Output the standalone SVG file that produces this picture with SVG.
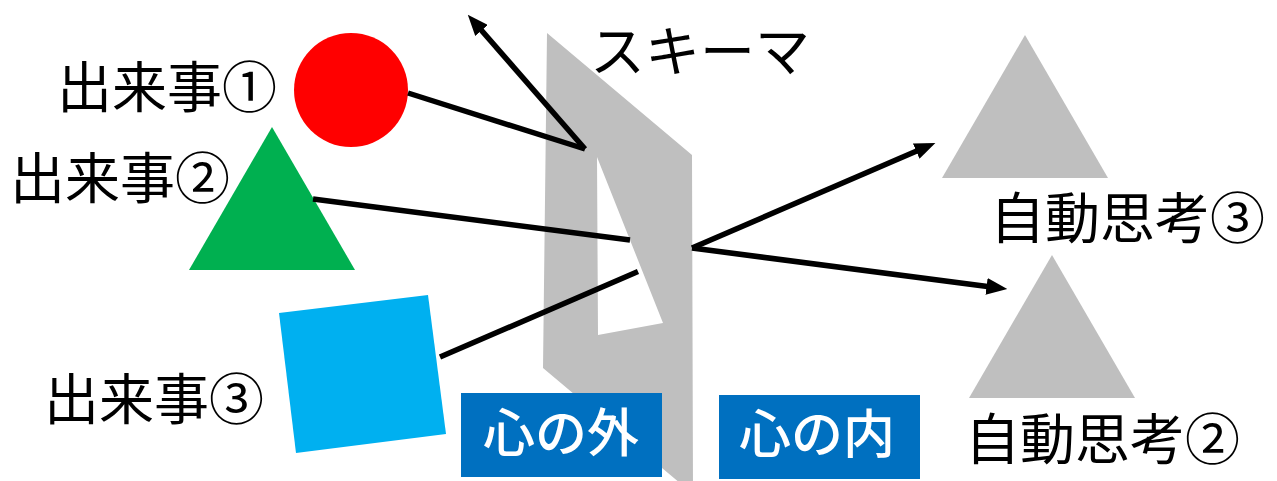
<svg xmlns="http://www.w3.org/2000/svg" width="1277" height="481" viewBox="0 0 1277 481">
<style>
.lbl{font-family:"Noto Sans CJK JP","Noto Sans CJK SC",sans-serif;font-size:55px;fill:#000}
.box{fill:#0070C0}
.btxt{font-family:"Noto Sans CJK JP","Noto Sans CJK SC",sans-serif;font-size:52px;font-weight:500;fill:#fff;text-anchor:middle}
.conn{stroke:#000;stroke-width:5.5;fill:none;stroke-linecap:butt}
.thought{fill:#BFBFBF}
</style>
<defs>
<marker id="arr" viewBox="0 0 10 8" refX="6" refY="4" markerWidth="3.8" markerHeight="3.04" orient="auto" markerUnits="strokeWidth">
<path d="M0,0 L10,4 L0,8 z" fill="#000"/>
</marker>
</defs>
<rect width="1277" height="481" fill="#fff"/>
<g id="schema">
<path class="thought" fill-rule="evenodd" d="M547,33 L692,155 L693,494 L543,368 Z M597,157 L663,323 L598,335 Z"/>
<text class="lbl" x="590" y="71" font-size="48">スキーマ</text>
</g>
<g id="event1">
<circle cx="351" cy="90" r="57" fill="#FF0000"/>
<text class="lbl" x="57" y="107">出来事①</text>
</g>
<g id="event2">
<polygon points="272,127 355,270 189,270" fill="#00B050"/>
<text class="lbl" x="10" y="198">出来事②</text>
</g>
<g id="event3">
<polygon points="279,313 428,295 446,434 296,453" fill="#00B0F0"/>
<text class="lbl" x="44" y="419">出来事③</text>
</g>
<g id="thought3">
<polygon class="thought" points="1025,35 1108,178 942,178"/>
<text class="lbl" x="990" y="238">自動思考③</text>
</g>
<g id="thought2">
<polygon class="thought" points="1052,255 1135,398 969,398"/>
<text class="lbl" x="965" y="459">自動思考②</text>
</g>
<g id="outside">
<rect class="box" x="461" y="393" width="201" height="84"/>
<text class="btxt" x="561" y="452">心の外</text>
</g>
<g id="inside">
<rect class="box" x="719" y="395" width="201" height="84"/>
<text class="btxt" x="817" y="453">心の内</text>
</g>
<g id="connectors">
<line class="conn" x1="408" y1="93" x2="585" y2="149"/>
<line class="conn" x1="585" y1="149" x2="473.3" y2="21" marker-end="url(#arr)"/>
<line class="conn" x1="313" y1="199" x2="630" y2="240"/>
<line class="conn" x1="692" y1="248" x2="999" y2="288" marker-end="url(#arr)"/>
<line class="conn" x1="440" y1="357" x2="638" y2="271.5"/>
<line class="conn" x1="692" y1="248" x2="927.7" y2="146.2" marker-end="url(#arr)"/>
</g>
</svg>
